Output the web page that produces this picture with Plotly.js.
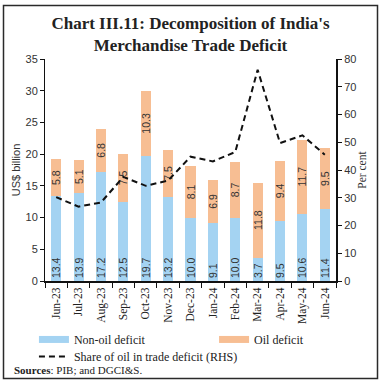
<!DOCTYPE html>
<html>
<head>
<meta charset="utf-8">
<script src="https://cdn.plot.ly/plotly-3.0.1.min.js"></script>
<style>
  html, body { margin: 0; padding: 0; background: #fff; overflow: hidden; }
</style>
</head>
<body>
<div id="chart" style="width:381px;height:385px;position:absolute;left:0;top:0;"></div>
<script>
const months = ['Jun-23','Jul-23','Aug-23','Sep-23','Oct-23','Nov-23','Dec-23','Jan-24','Feb-24','Mar-24','Apr-24','May-24','Jun-24'];
const nonOilDeficit = [13.4, 13.9, 17.2, 12.5, 19.7, 13.2, 10.0, 9.1, 10.0, 3.7, 9.5, 10.6, 11.4];
const oilDeficit = [5.8, 5.1, 6.8, 7.5, 10.3, 7.5, 8.1, 6.9, 8.7, 11.8, 9.4, 11.7, 9.5];
const oilShare = [30.2, 26.8, 28.3, 37.5, 34.3, 36.2, 44.8, 43.1, 46.5, 76.1, 49.7, 52.5, 45.5];
const leftTicks = [0, 5, 10, 15, 20, 25, 30, 35];
const rightTicks = [0, 10, 20, 30, 40, 50, 60, 70, 80];

const BLUE = '#a4d3f2';
const PEACH = '#f7be93';
const SERIF = 'Liberation Serif, DejaVu Serif, serif';
const SANS = 'Liberation Sans, DejaVu Sans, sans-serif';

const traces = [
  { type: 'bar', x: months, y: nonOilDeficit, name: 'Non-oil deficit',
    marker: { color: BLUE }, showlegend: false,
    texttemplate: '%{y:.1f}', textposition: 'inside', insidetextanchor: 'start',
    textangle: -90, constraintext: 'none',
    textfont: { family: SANS, size: 10.5, color: '#333' }, hoverinfo: 'skip' },
  { type: 'bar', x: months, y: oilDeficit, name: 'Oil deficit',
    marker: { color: PEACH }, showlegend: false,
    texttemplate: '%{y:.1f}', textposition: 'inside', insidetextanchor: 'middle',
    textangle: -90, constraintext: 'none',
    textfont: { family: SANS, size: 10.5, color: '#333' }, hoverinfo: 'skip' },
  { type: 'scatter', mode: 'lines', x: months, y: oilShare, yaxis: 'y2',
    name: 'Share of oil in trade deficit (RHS)',
    line: { color: '#111', width: 2, dash: '6px,4px' }, legend: 'legend3' },
  // legend swatches for the two bar series
  { type: 'scatter', mode: 'lines', x: [null], y: [null], name: 'Non-oil deficit',
    line: { color: BLUE, width: 7 }, legend: 'legend' },
  { type: 'scatter', mode: 'lines', x: [null], y: [null], name: 'Oil deficit',
    line: { color: PEACH, width: 7 }, legend: 'legend2' }
];

const legFont = { family: SERIF, size: 12, color: '#222' };
const legBase = { orientation: 'h', xanchor: 'left', yanchor: 'top', font: legFont,
  bgcolor: 'rgba(0,0,0,0)', borderwidth: 0, itemwidth: 30 };

const layout = {
  width: 381, height: 385,
  margin: { l: 45, r: 45, t: 59, b: 104, autoexpand: false },
  paper_bgcolor: '#fff', plot_bgcolor: '#fff',
  barmode: 'stack', bargap: 0.55,
  title: {
    text: '<b>Chart III.11: Decomposition of India\'s<br>Merchandise Trade Deficit</b>',
    font: { family: SERIF, size: 17, color: '#222' },
    x: 0.5, xanchor: 'center', yref: 'container', y: 0.925, yanchor: 'top'
  },
  xaxis: {
    type: 'category', range: [-0.5, 12.5], tickangle: -90,
    tickfont: { family: SERIF, size: 11.5, color: '#222' },
    showline: true, linecolor: '#111', linewidth: 2,
    ticks: 'outside', tickson: 'boundaries', ticklen: 5, tickcolor: '#111', tickwidth: 1,
    showgrid: false, zeroline: false
  },
  yaxis: {
    range: [0, 35], tickvals: leftTicks, ticks: 'outside', ticklen: 4, tickcolor: '#111',
    tickfont: { family: SANS, size: 11, color: '#333' },
    showline: true, linecolor: '#111', linewidth: 1,
    showgrid: false, zeroline: false,
    title: { text: 'US$ billion', font: { family: SANS, size: 11, color: '#333' }, standoff: 2 }
  },
  yaxis2: {
    overlaying: 'y', side: 'right', range: [0, 80], tickvals: rightTicks,
    ticks: 'outside', ticklen: 4, tickcolor: '#111',
    tickfont: { family: SANS, size: 11, color: '#333' },
    showline: true, linecolor: '#111', linewidth: 2,
    showgrid: false, zeroline: false,
    title: { text: 'Per cent', font: { family: SERIF, size: 11.5, color: '#333' }, standoff: 1 }
  },
  legend: Object.assign({}, legBase, { x: -0.038, y: -0.198 }),
  legend2: Object.assign({}, legBase, { x: 0.581, y: -0.198 }),
  legend3: Object.assign({}, legBase, { x: -0.038, y: -0.275 }),
  shapes: [{
    type: 'rect', xref: 'paper', yref: 'paper', layer: 'above',
    x0: (3.5 - 45) / 291, x1: (377.5 - 45) / 291,
    y0: (281 - 378.5) / 222, y1: (281 - 5.5) / 222,
    line: { color: '#2a2a2a', width: 1.5 }, fillcolor: 'rgba(0,0,0,0)'
  }],
  annotations: [{
    xref: 'paper', yref: 'paper', x: -0.113, y: -0.40, xanchor: 'left', yanchor: 'middle',
    text: '<b>Sources</b>: PIB; and DGCI&S.', showarrow: false,
    font: { family: SERIF, size: 11, color: '#222' }
  }]
};

Plotly.newPlot('chart', traces, layout, { displayModeBar: false, staticPlot: true });
</script>
</body>
</html>
